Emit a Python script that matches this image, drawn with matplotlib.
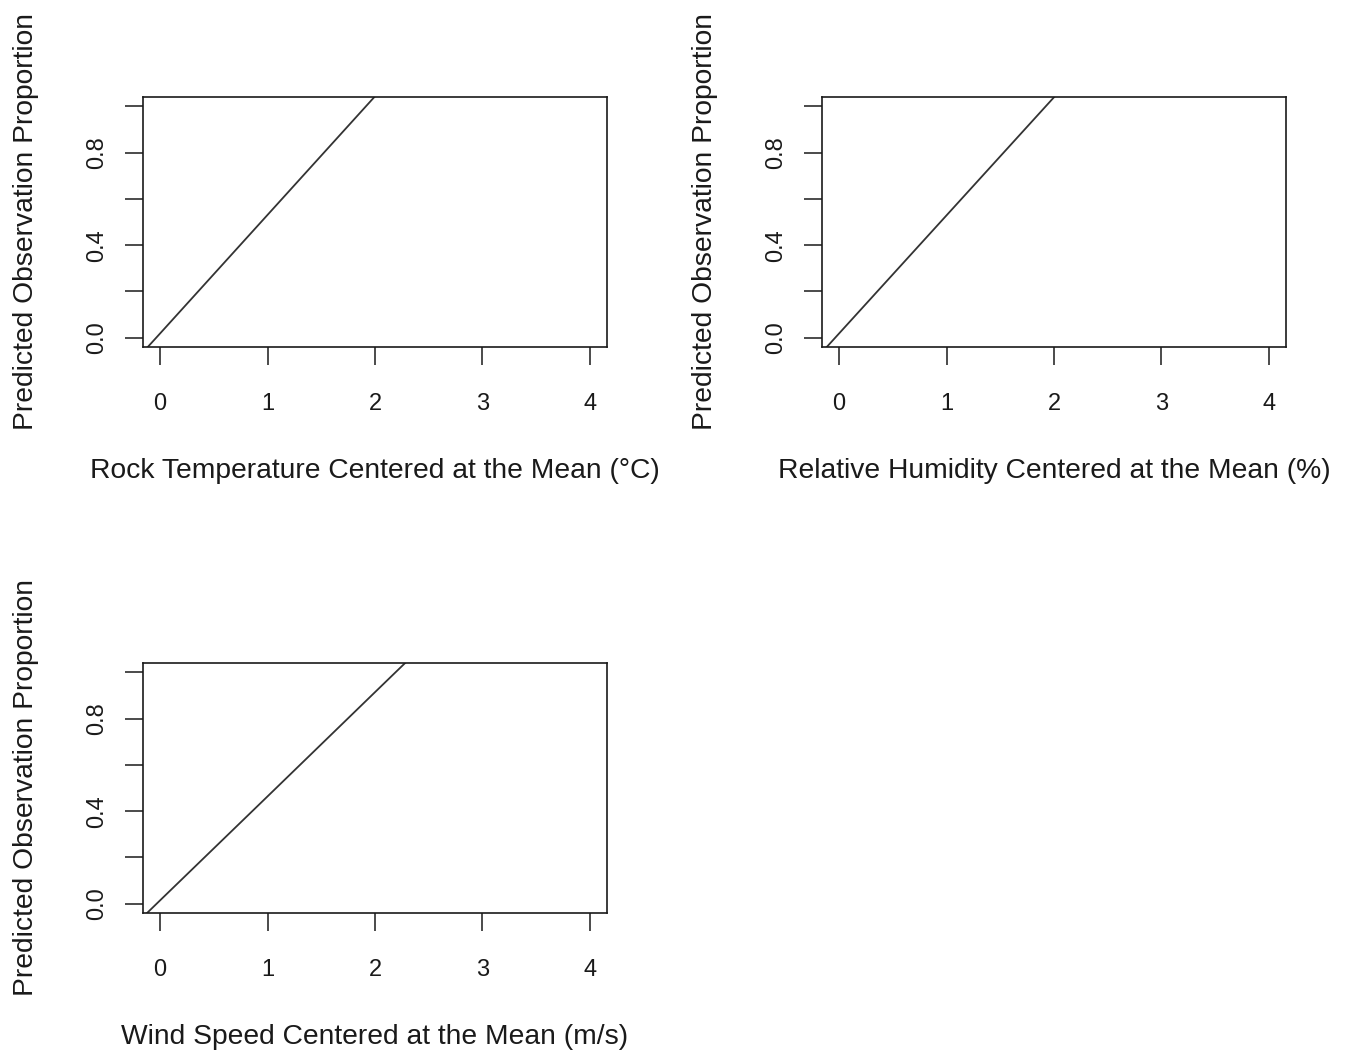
import numpy as np
import matplotlib.pyplot as plt

plt.rcParams['font.family'] = ['Liberation Sans', 'DejaVu Sans']

# Predicted observation proportion vs. centred covariate
x_vals = [-0.2, 0, 1, 2, 3, 4]
temp_pred = [-0.083, 0.019, 0.531, 1.043, 1.555, 2.067]
humid_pred = [-0.083, 0.019, 0.529, 1.039, 1.549, 2.059]
wind_pred = [-0.075, 0.015, 0.464, 0.914, 1.363, 1.812]

x_ticks = [0, 1, 2, 3, 4]
y_ticks = [0.0, 0.2, 0.4, 0.6, 0.8, 1.0]
y_ticklabels = ['0.0', '', '0.4', '', '0.8', '']

ylab = 'Predicted Observation Proportion'
xlabels = ['Rock Temperature Centered at the Mean (\u00b0C)',
           'Relative Humidity Centered at the Mean (%)',
           'Wind Speed Centered at the Mean (m/s)']
series = [temp_pred, humid_pred, wind_pred]

W, H = 1353, 1054
fig = plt.figure(figsize=(W / 100, H / 100), dpi=100)

# axes boxes in pixels: left, top, right, bottom
boxes = [(143, 97, 607, 347), (822, 97, 1286, 347), (143, 663, 607, 913)]

ink = '#1a1a1a'
for (l, t, r, b), yv, xl in zip(boxes, series, xlabels):
    ax = fig.add_axes([l / W, 1 - b / H, (r - l) / W, (b - t) / H])
    ax.plot(x_vals, yv, color='#333333', lw=1.3)
    ax.set_xlim(-0.16, 4.16)
    ax.set_ylim(-0.04, 1.04)
    ax.set_xticks(x_ticks)
    ax.set_yticks(y_ticks)
    ax.set_yticklabels(y_ticklabels, rotation=90, va='center')
    for s in ax.spines.values():
        s.set_linewidth(1.2)
        s.set_color(ink)
    ax.tick_params(direction='out', length=13, width=1.1, colors=ink,
                   labelsize=17, labelcolor=ink)
    ax.tick_params(axis='x', pad=20)
    ax.tick_params(axis='y', pad=12)
    ax.set_xlabel(xl, fontsize=20.3, color=ink, labelpad=31)
    ax.set_ylabel(ylab, fontsize=20.3, color=ink, labelpad=34)

fig.savefig('out.png', dpi=100, facecolor='white')
